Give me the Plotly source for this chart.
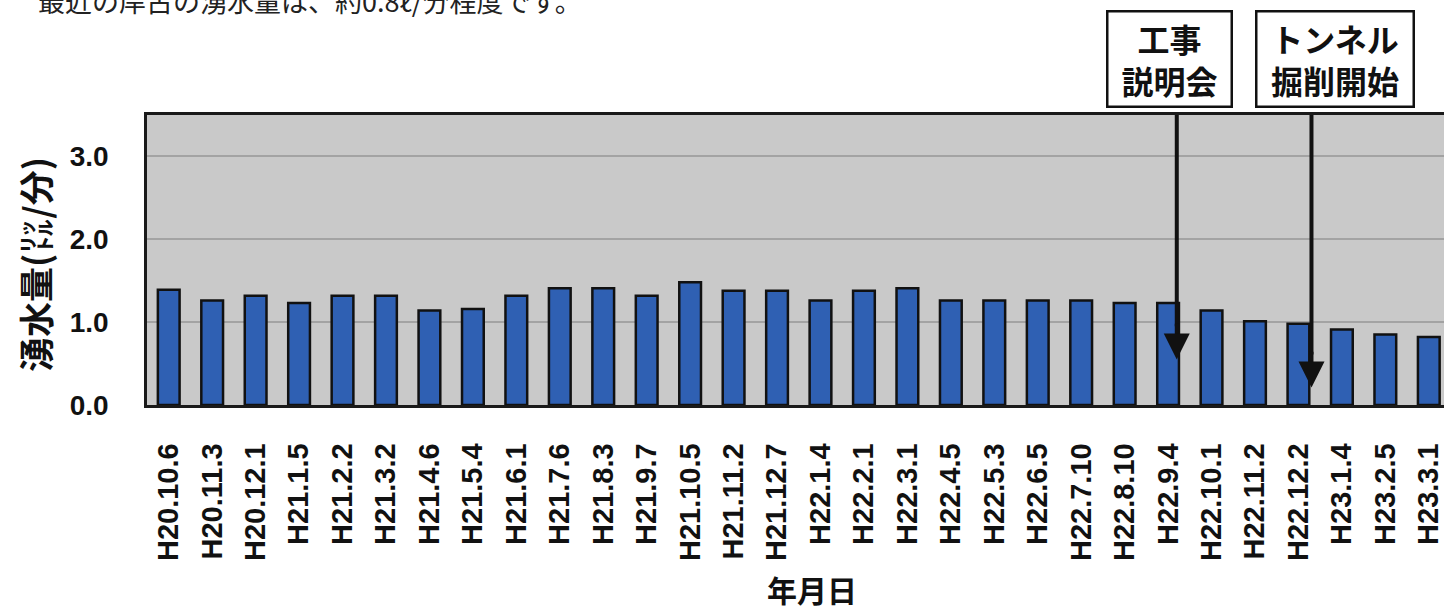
import plotly.graph_objects as go

dates = ["H20.10.6", "H20.11.3", "H20.12.1", "H21.1.5", "H21.2.2", "H21.3.2",
         "H21.4.6", "H21.5.4", "H21.6.1", "H21.7.6", "H21.8.3", "H21.9.7",
         "H21.10.5", "H21.11.2", "H21.12.7", "H22.1.4", "H22.2.1", "H22.3.1",
         "H22.4.5", "H22.5.3", "H22.6.5", "H22.7.10", "H22.8.10", "H22.9.4",
         "H22.10.1", "H22.11.2", "H22.12.2", "H23.1.4", "H23.2.5", "H23.3.1"]
flow = [1.39, 1.26, 1.32, 1.23, 1.32, 1.32,
        1.14, 1.16, 1.32, 1.41, 1.41, 1.32,
        1.48, 1.38, 1.38, 1.26, 1.38, 1.41,
        1.26, 1.26, 1.26, 1.26, 1.23, 1.23,
        1.14, 1.01, 0.98, 0.91, 0.85, 0.82]
y_ticks = [0, 1, 2, 3]
y_tick_text = ["0.0", "1.0", "2.0", "3.0"]

events = ["工事<br>説明会", "トンネル<br>掘削開始"]
event_x = [23.2, 26.3]      # position along the category axis
event_tip = [0.55, 0.21]    # arrow tip value

headline = "最近の岸古の湧水量は、約0.8ℓ/分程度です。"
y_title = "湧水量(㍑/分)"
x_title = "年月日"

FONT = "Liberation Sans, Arial, Noto Sans CJK JP, sans-serif"
JFONT = "Noto Sans CJK JP, sans-serif"

fig = go.Figure()
fig.add_trace(go.Bar(
    x=dates, y=flow, width=0.5,
    marker=dict(color="#2f60b3", line=dict(color="#111111", width=2.5)),
))

L, R, T, B = 147, 0, 115, 209
W, H = 1444, 614
pw = W - L - R
ph = H - T - B
Y_TOP = 3.5

def px(xp):
    return (xp - L) / pw

def py(yp):
    return (H - B - yp) / ph

def yval(yp):
    return (H - B - yp) / ph * Y_TOP

fig.update_layout(
    width=W, height=H,
    margin=dict(l=L, r=R, t=T, b=B),
    paper_bgcolor="white",
    plot_bgcolor="#c9c9c9",
    showlegend=False,
    font=dict(family=FONT, color="#111111"),
)
fig.update_xaxes(
    type="category", range=[-0.5, 29.35],
    showline=True, linecolor="#1a1a1a", linewidth=2.5, mirror=True,
    showgrid=False, ticks="", tickangle=-90,
    tickfont=dict(family=FONT, size=29, weight="bold", color="#111111"),
    ticklabelstandoff=24,
)
fig.update_yaxes(
    range=[0, Y_TOP], tickvals=y_ticks, ticktext=y_tick_text,
    showline=True, linecolor="#1a1a1a", linewidth=2.5,
    showgrid=True, gridcolor="#a3a3a3", gridwidth=1.5, zeroline=False,
    ticks="", tickfont=dict(family=FONT, size=28, weight="bold", color="#111111"),
    ticklabelstandoff=30,
)

annotations = [
    dict(text=y_title, xref="paper", yref="paper", x=px(34), y=py(265),
         textangle=-90, showarrow=False, xanchor="center", yanchor="middle",
         font=dict(family=JFONT, size=35, weight="bold", color="#111111")),
    dict(text=x_title, xref="paper", yref="paper", x=px(812), y=py(589),
         showarrow=False, xanchor="center", yanchor="middle",
         font=dict(family=JFONT, size=30, weight="bold", color="#111111")),
    dict(text=headline, xref="paper", yref="paper", x=px(36), y=py(0),
         showarrow=False, xanchor="left", yanchor="middle",
         font=dict(family=JFONT, size=27, color="#222222")),
]
box_cx = [1169.5, 1335]
box_w = [120, 153]
for txt, cx, bw in zip(events, box_cx, box_w):
    annotations.append(dict(
        text=txt, xref="paper", yref="paper", x=px(cx), y=py(58.5),
        showarrow=False, xanchor="center", yanchor="middle",
        width=bw, height=91, borderpad=1, borderwidth=2.5,
        bordercolor="#111111", bgcolor="white",
        font=dict(family=JFONT, size=32, weight="bold", color="#111111"),
    ))
shapes = []
for ex, tip in zip(event_x, event_tip):
    shapes.append(dict(
        type="line", xref="x", yref="y", x0=ex, x1=ex,
        y0=yval(107), y1=tip + 0.4,
        line=dict(color="#111111", width=4),
    ))
    annotations.append(dict(
        text="", x=ex, y=tip, xref="x", yref="y",
        ax=ex, ay=tip + 0.45, axref="x", ayref="y",
        showarrow=True, arrowhead=2, arrowsize=1.3, arrowwidth=4,
        arrowcolor="#111111",
    ))
fig.update_layout(annotations=annotations, shapes=shapes)

fig.write_html(
    "out.html",
    config={"displayModeBar": False},
    post_script="document.body.style.margin='0px';document.body.style.overflow='hidden';",
)
